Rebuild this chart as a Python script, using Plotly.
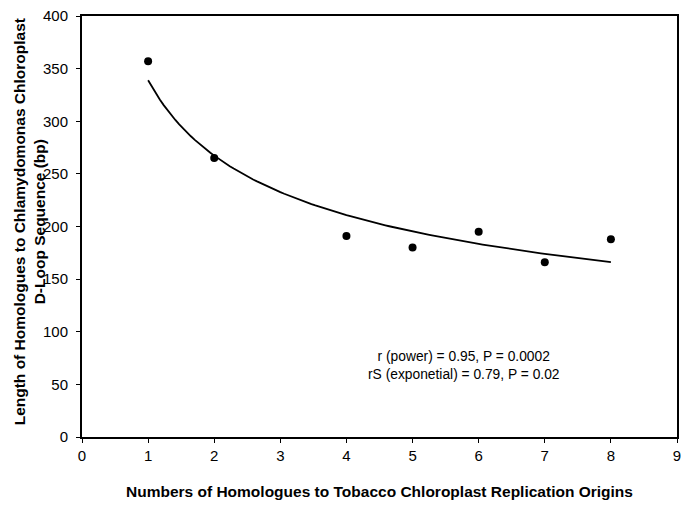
import numpy as np
import plotly.graph_objects as go

homologue_counts = [1, 2, 4, 5, 6, 7, 8]
dloop_lengths = [357, 265, 191, 180, 195, 166, 188]

x_ticks = list(range(0, 10))
y_ticks = list(range(0, 401, 50))

# power-law trendline fitted from the data (least squares in log-log space)
slope, intercept = np.polyfit(np.log(homologue_counts), np.log(dloop_lengths), 1)
fit_x = np.linspace(min(homologue_counts), max(homologue_counts), 120)
fit_y = np.exp(intercept) * fit_x ** slope

fig = go.Figure()
fig.add_trace(go.Scatter(x=fit_x, y=fit_y, mode="lines",
                         line=dict(color="black", width=1.8), hoverinfo="skip"))
fig.add_trace(go.Scatter(x=homologue_counts, y=dloop_lengths, mode="markers",
                         marker=dict(color="black", size=8)))

axis_common = dict(showline=True, linecolor="black", linewidth=2, mirror=True,
                   ticks="outside", ticklen=4, tickcolor="black", showgrid=False,
                   zeroline=False, tickfont=dict(size=15), automargin=False)

fig.update_layout(
    width=685, height=510,
    margin=dict(l=82, r=8, t=16, b=73),
    paper_bgcolor="white", plot_bgcolor="white",
    showlegend=False,
    font=dict(family="Liberation Sans, Arial, sans-serif", size=15, color="black"),
    xaxis=dict(range=[0, 9], tickvals=x_ticks, **axis_common),
    yaxis=dict(range=[0, 400], tickvals=y_ticks, ticklabelstandoff=5, **axis_common),
    annotations=[
        dict(x=5.78, y=68.4, xref="x", yref="y",
             text="r (power) = 0.95, P = 0.0002<br>rS (exponetial) = 0.79, P = 0.02",
             showarrow=False, font=dict(size=13.8), align="center"),
        dict(x=0.5, y=-0.1306, xref="paper", yref="paper", yanchor="middle",
             text="<b>Numbers of Homologues to Tobacco Chloroplast Replication Origins</b>",
             showarrow=False, font=dict(size=15.5)),
        dict(x=-0.089, y=0.51, xref="paper", yref="paper", xanchor="center", yanchor="middle",
             textangle=-90,
             text="<b>Length of Homologues to Chlamydomonas Chloroplast<br>D-Loop Sequence (bp)</b>",
             showarrow=False, font=dict(size=15.5), align="center"),
    ],
)

fig.write_html("out.html", config={"displayModeBar": False},
               post_script="document.body.style.margin='0px';document.body.style.overflow='hidden';")
